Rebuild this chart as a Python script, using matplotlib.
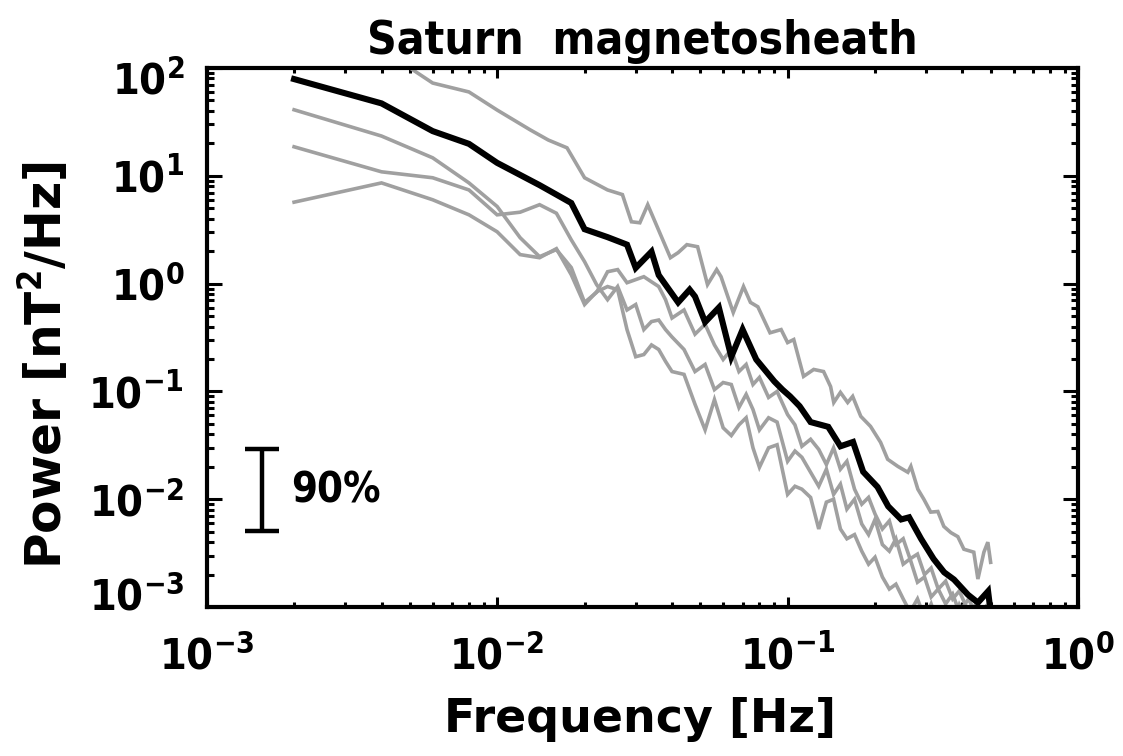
import matplotlib
matplotlib.use('Agg')
import matplotlib.pyplot as plt
import matplotlib.transforms as mtransforms
from matplotlib import font_manager

freq_grid = [0.002, 0.004, 0.006, 0.008, 0.010, 0.012, 0.014, 0.016, 0.018, 0.020,
             0.022, 0.024, 0.026, 0.028, 0.030, 0.032, 0.034, 0.036, 0.038, 0.040,
             0.044, 0.048, 0.052, 0.056, 0.060, 0.064, 0.068, 0.072, 0.076, 0.080,
             0.086, 0.092, 0.100, 0.106, 0.112, 0.120, 0.128, 0.136, 0.144, 0.152,
             0.160, 0.170, 0.180, 0.190, 0.200,
             0.212, 0.224, 0.236, 0.250, 0.264, 0.280, 0.296, 0.312, 0.330, 0.350,
             0.370, 0.390, 0.420, 0.450, 0.480, 0.500]

gray2_power = [41, 23.4, 14.7, 8.6, 5.2, 2.67, 1.78, 2.07, 1.41, 0.67,
               0.83, 1.29, 1.35, 1.02, 1.09, 1.16, 1.04, 0.94, 0.71, 0.48,
               0.57, 0.34, 0.42, 0.27, 0.198, 0.245, 0.153, 0.178, 0.116, 0.135,
               0.088, 0.10, 0.061, 0.049, 0.031, 0.036, 0.029, 0.021, 0.030, 0.019,
               0.0225, 0.0124, 0.0090, 0.0104, 0.0073,
               0.0053, 0.0063, 0.0038, 0.0043, 0.0028, 0.0031, 0.0020, 0.0023, 0.00147, 0.00174,
               0.00119, 0.00141, 0.0009, 0.00109, 0.0008, 0.0007]

gray3_power = [18.6, 10.9, 9.6, 7.4, 4.35, 4.6, 5.4, 4.5, 2.55, 1.60,
               0.98, 0.71, 0.94, 0.57, 0.64, 0.375, 0.445, 0.46, 0.375, 0.32,
               0.245, 0.153, 0.178, 0.104, 0.121, 0.116, 0.071, 0.094, 0.068, 0.044,
               0.057, 0.052, 0.0225, 0.028, 0.0245, 0.0178, 0.0132, 0.019, 0.0111, 0.0138,
               0.0081, 0.0100, 0.0059, 0.0047, 0.0065,
               0.0038, 0.0033, 0.0043, 0.0025, 0.0028, 0.0017, 0.0019, 0.00124, 0.00147, 0.00107,
               0.00132, 0.0009, 0.00119, 0.0008, 0.0010, 0.0007]

gray4_power = [5.7, 8.6, 6.0, 4.35, 3.03, 1.86, 1.74, 2.11, 1.21, 0.64,
               0.84, 0.94, 0.88, 0.375, 0.21, 0.22, 0.27, 0.245, 0.19, 0.153,
               0.144, 0.076, 0.044, 0.084, 0.046, 0.039, 0.049, 0.057, 0.030, 0.0198,
               0.030, 0.032, 0.0111, 0.0132, 0.0124, 0.0104, 0.0053, 0.0094, 0.0100, 0.0053,
               0.0043, 0.0047, 0.0033, 0.0025, 0.0029,
               0.0019, 0.00147, 0.00163, 0.00119, 0.0009, 0.00119, 0.0008, 0.00107, 0.0007, 0.00092,
               0.0007, 0.00105, 0.0007, 0.00102, 0.0007, 0.0006]

# upper gray spectrum (enters from the top of the frame)
gray1_freq = [0.004, 0.006, 0.008, 0.010, 0.013, 0.015, 0.0174, 0.020, 0.024, 0.027,
              0.029, 0.031, 0.033, 0.0395, 0.042, 0.045, 0.049, 0.053, 0.057, 0.059,
              0.065, 0.0705, 0.0745, 0.079, 0.087, 0.095, 0.100, 0.105, 0.1135, 0.123,
              0.133, 0.1406, 0.1442, 0.152, 0.161, 0.1675, 0.1786, 0.193, 0.209, 0.221,
              0.2395, 0.2594, 0.2657, 0.2808, 0.2945, 0.311, 0.329, 0.345, 0.365, 0.3855,
              0.4045, 0.4375, 0.452, 0.474, 0.489, 0.500]
gray1_power = [150, 72.6, 60, 40.8, 26.7, 21.5, 18.2, 9.6, 7.4, 6.7,
               3.75, 3.67, 5.4, 1.74, 1.94, 2.30, 2.20, 0.98, 1.35, 1.16,
               0.54, 0.94, 0.67, 0.61, 0.35, 0.375, 0.284, 0.303, 0.138, 0.160,
               0.153, 0.111, 0.079, 0.098, 0.079, 0.090, 0.0588, 0.0474, 0.0337, 0.0235,
               0.0202, 0.0178, 0.0202, 0.0124, 0.0100, 0.0076, 0.0077, 0.0056, 0.0049, 0.0045,
               0.00344, 0.00323, 0.00182, 0.00323, 0.0040, 0.0026]

# black (mean) spectrum
black_freq = [0.002, 0.004, 0.006, 0.008, 0.010, 0.014, 0.016, 0.018, 0.020, 0.024,
              0.028, 0.030, 0.034, 0.036, 0.042, 0.046, 0.048, 0.052, 0.058, 0.064,
              0.070, 0.078, 0.090, 0.096, 0.102, 0.110, 0.120, 0.138, 0.152, 0.168,
              0.182, 0.204, 0.222, 0.246, 0.262, 0.288, 0.318, 0.346, 0.374, 0.418,
              0.452, 0.490, 0.500]
black_power = [79, 47, 26, 19.8, 13.2, 8.2, 6.7, 5.6, 3.2, 2.7,
               2.3, 1.4, 1.98, 1.2, 0.67, 0.88, 0.76, 0.44, 0.60, 0.21,
               0.375, 0.198, 0.124, 0.104, 0.090, 0.073, 0.052, 0.047, 0.031, 0.034,
               0.018, 0.013, 0.0086, 0.0065, 0.0068, 0.0043, 0.0028, 0.0021, 0.0018, 0.0013,
               0.0011, 0.0014, 0.0009]

# 90% confidence bar
err_freq = 0.00155
err_low = 0.00506
err_high = 0.029
err_mid = 0.0121
err_text = '90%'

# narrow bold face for numbers, close to the IDL vector font
fam = ['DejaVu Sans']
names = set(f.name for f in font_manager.fontManager.ttflist)
for cand in ['DejaVu Sans Condensed', 'Liberation Sans Narrow']:
    if cand in names:
        fam = [cand, 'DejaVu Sans']
        break
plt.rcParams['font.family'] = fam
plt.rcParams['font.weight'] = 'bold'
plt.rcParams['font.stretch'] = 'condensed'
plt.rcParams['mathtext.fontset'] = 'custom'
plt.rcParams['mathtext.bf'] = fam[0] + ':bold'
plt.rcParams['mathtext.rm'] = fam[0] + ':bold'
plt.rcParams['mathtext.default'] = 'bf'

fig = plt.figure(figsize=(11.23, 7.56), dpi=100)
ax = fig.add_axes([0.184, 0.197, 0.776, 0.713])

gray = '#a0a0a0'
for pw in (gray2_power, gray3_power, gray4_power):
    ax.plot(freq_grid, pw, color=gray, lw=2.6, solid_joinstyle='miter')
ax.plot(gray1_freq, gray1_power, color=gray, lw=2.6, solid_joinstyle='miter')
ax.plot(black_freq, black_power, color='black', lw=4.4, solid_joinstyle='miter')

ax.errorbar([err_freq], [err_mid], yerr=[[err_mid - err_low], [err_high - err_mid]],
            color='black', lw=3.2, capsize=12.5, capthick=3.2, fmt='none')
ax.text(0.00195, err_mid, err_text, fontsize=30, fontweight='bold',
        ha='left', va='center')

ax.set_xscale('log')
ax.set_yscale('log')
ax.set_xlim(1e-3, 1e0)
ax.set_ylim(1e-3, 1e2)

for s in ax.spines.values():
    s.set_linewidth(3.0)
ax.tick_params(which='both', direction='in', top=True, right=True, width=2.2,
               labelsize=31)
ax.tick_params(axis='y', which='major', length=11, pad=16)
ax.tick_params(axis='y', which='minor', length=5)
ax.tick_params(axis='x', which='major', length=7, pad=21)
ax.tick_params(axis='x', which='minor', length=3.6)
ax.set_xticks([1e-3, 1e-2, 1e-1, 1e0])
ax.set_yticks([1e-3, 1e-2, 1e-1, 1e0, 1e1, 1e2])

# shift the end labels of the y axis inward like the original
fig.canvas.draw()
ylabels = ax.get_yticklabels()
ylabels[0].set_transform(ylabels[0].get_transform() +
                         mtransforms.ScaledTranslation(0, 0.13, fig.dpi_scale_trans))
ylabels[-1].set_transform(ylabels[-1].get_transform() +
                          mtransforms.ScaledTranslation(0, -0.10, fig.dpi_scale_trans))

ax.set_title('Saturn  magnetosheath', fontsize=33, fontweight='bold', pad=10)
fig.text(0.570, 0.048, 'Frequency [Hz]', fontsize=33, fontweight='bold',
         family='DejaVu Sans', fontstretch='normal', ha='center', va='center')
fig.text(0.040, 0.517, r'Power [nT$^2$/Hz]', fontsize=35, fontweight='bold',
         family='DejaVu Sans', fontstretch='normal', ha='center', va='center',
         rotation=90)

fig.savefig('out.png', dpi=100)
